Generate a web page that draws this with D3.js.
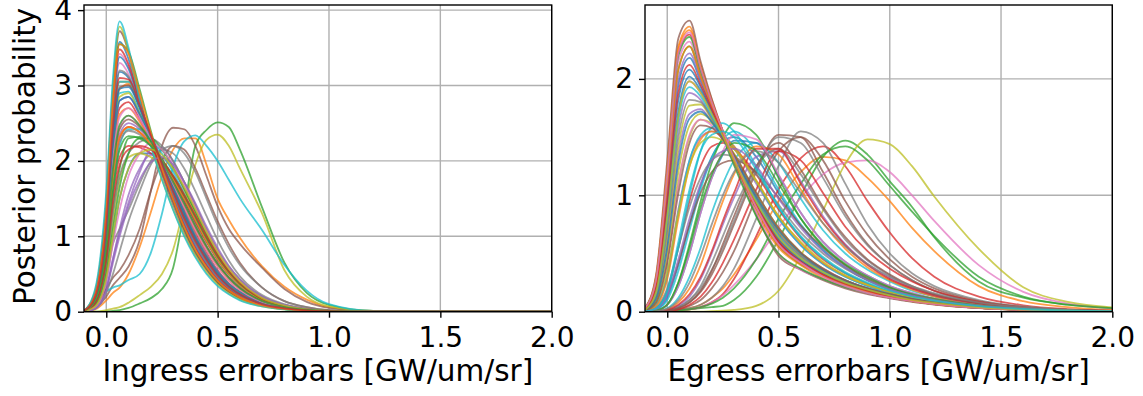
<!DOCTYPE html>
<html>
<head>
<meta charset="utf-8">
<script src="https://cdn.jsdelivr.net/npm/d3@7"></script>
<style>
  body { margin: 0; background: #fff; }
  text { font-family: "DejaVu Sans", sans-serif; }
</style>
</head>
<body>
<svg id="chart" width="1143" height="396"></svg>
<script>
// x grids the curves are sampled on
const xIngress = [-0.1, -0.05, 0, 0.03, 0.06, 0.1, 0.15, 0.2, 0.25, 0.3, 0.35, 0.4, 0.45, 0.5, 0.55, 0.6, 0.7, 0.8, 0.9, 1.0, 1.2, 2.0];
const xEgress = [-0.1, -0.05, 0, 0.05, 0.1, 0.15, 0.2, 0.25, 0.3, 0.4, 0.5, 0.6, 0.7, 0.8, 0.9, 1.0, 1.1, 1.2, 1.4, 1.6, 1.8, 2.0];

const xTicks = [0, 0.5, 1.0, 1.5, 2.0];
const ingressYTicks = [0, 1, 2, 3, 4];
const egressYTicks = [0, 1, 2];

const tab10 = ["#1f77b4", "#ff7f0e", "#2ca02c", "#d62728", "#9467bd", "#8c564b", "#e377c2", "#7f7f7f", "#bcbd22", "#17becf"];

// #region ingress posteriors
const ingressCurves = [
  [0.003,0.06,0.4,0.95,1.5,1.9,2.1,2.1,1.98,1.78,1.52,1.25,0.98,0.74,0.53,0.37,0.17,0.08,0.03,0.01,0.002,0],
  [0,0.03,0.15,0.25,0.32,0.5,0.86,1.32,1.8,2.15,2.3,2.3,1.95,1.5,1.22,0.98,0.6,0.33,0.16,0.06,0.01,0],
  [0,0,0.005,0.01,0.02,0.05,0.11,0.18,0.3,0.58,1.35,2.2,2.41,2.51,2.45,2.15,1.38,0.65,0.25,0.09,0.01,0],
  [0.005,0.12,0.72,1.55,2.05,2.2,2.18,2.1,1.95,1.75,1.5,1.22,0.95,0.7,0.5,0.35,0.16,0.07,0.03,0.01,0,0],
  [0.002,0.04,0.3,0.7,1.1,1.55,1.9,2.08,2.05,1.88,1.62,1.33,1.05,0.78,0.56,0.39,0.18,0.08,0.03,0.01,0.002,0],
  [0,0.05,0.2,0.35,0.45,0.6,0.95,1.6,2.2,2.44,2.42,2.2,1.8,1.4,1.1,0.9,0.58,0.3,0.13,0.05,0.005,0],
  [0.01,0.22,1.25,2.6,3.3,3.15,2.72,2.28,1.9,1.54,1.2,0.9,0.66,0.46,0.32,0.22,0.1,0.045,0.018,0.007,0,0],
  [0.003,0.08,0.5,0.9,1.1,1.35,1.7,2.0,2.15,2.1,1.9,1.6,1.27,0.95,0.68,0.47,0.22,0.1,0.04,0.015,0.002,0],
  [0,0,0.02,0.04,0.06,0.12,0.22,0.33,0.5,0.82,1.4,1.95,2.28,2.35,2.2,1.9,1.3,0.55,0.2,0.07,0.01,0],
  [0.01,0.1,0.27,0.32,0.35,0.42,0.5,0.78,1.3,1.92,2.26,2.34,2.2,2.0,1.75,1.5,1.08,0.62,0.28,0.1,0.01,0],

  [0.01,0.2,1.2,2.5,3.18,3.1,2.72,2.3,1.92,1.56,1.22,0.92,0.67,0.47,0.32,0.22,0.1,0.045,0.018,0.007,0,0],
  [0.01,0.18,1.05,2.3,2.95,3.02,2.72,2.35,1.98,1.62,1.28,0.97,0.72,0.5,0.34,0.23,0.1,0.045,0.018,0.007,0,0],
  [0.005,0.1,0.6,1.35,1.9,2.3,2.32,2.2,2.0,1.75,1.48,1.2,0.93,0.7,0.5,0.35,0.16,0.07,0.03,0.01,0,0],
  [0.01,0.16,0.95,2.1,2.7,2.78,2.55,2.28,1.98,1.66,1.35,1.05,0.78,0.55,0.38,0.26,0.12,0.05,0.02,0.008,0,0],
  [0.003,0.05,0.3,0.7,1.05,1.45,1.85,2.15,2.18,2.0,1.72,1.4,1.08,0.8,0.57,0.4,0.18,0.08,0.03,0.01,0.002,0],
  [0.005,0.08,0.3,0.45,0.55,0.75,1.1,1.6,2.0,2.2,2.15,1.9,1.55,1.2,0.9,0.65,0.32,0.14,0.06,0.02,0.003,0],
  [0.01,0.23,1.3,2.7,3.42,3.25,2.78,2.3,1.9,1.52,1.16,0.86,0.62,0.43,0.3,0.2,0.09,0.04,0.015,0.006,0,0],
  [0.003,0.04,0.25,0.5,0.8,1.2,1.6,1.95,2.15,2.2,2.1,1.85,1.5,1.15,0.85,0.62,0.32,0.14,0.06,0.02,0.003,0],
  [0.005,0.1,0.55,1.2,1.75,2.05,2.1,2.05,1.95,1.8,1.58,1.3,1.02,0.76,0.55,0.38,0.17,0.08,0.03,0.01,0,0],
  [0.01,0.17,1.0,2.25,2.9,2.92,2.65,2.33,1.98,1.63,1.3,0.98,0.72,0.51,0.35,0.24,0.1,0.045,0.018,0.007,0,0],

  [0.01,0.26,1.42,2.88,3.58,3.35,2.8,2.28,1.85,1.46,1.1,0.8,0.58,0.4,0.27,0.19,0.085,0.037,0.014,0.005,0,0],
  [0.01,0.19,1.1,2.4,3.05,3.05,2.72,2.32,1.95,1.6,1.26,0.95,0.7,0.49,0.33,0.23,0.1,0.044,0.017,0.006,0,0],
  [0.01,0.22,1.3,2.8,3.55,3.45,2.95,2.4,1.9,1.48,1.1,0.8,0.57,0.39,0.27,0.18,0.08,0.035,0.013,0.005,0,0],
  [0.008,0.14,0.82,1.75,2.3,2.45,2.38,2.22,2.0,1.75,1.48,1.2,0.93,0.69,0.5,0.35,0.16,0.07,0.03,0.01,0,0],
  [0.008,0.14,0.85,1.8,2.35,2.5,2.42,2.25,2.0,1.72,1.42,1.12,0.86,0.63,0.45,0.31,0.14,0.06,0.025,0.01,0,0],
  [0.01,0.25,1.45,2.95,3.72,3.45,2.85,2.28,1.82,1.42,1.06,0.77,0.55,0.38,0.26,0.18,0.08,0.035,0.013,0.005,0,0],
  [0.01,0.15,0.9,1.9,2.45,2.6,2.48,2.27,2.0,1.72,1.43,1.13,0.86,0.63,0.45,0.31,0.14,0.06,0.025,0.01,0,0],
  [0.005,0.1,0.6,1.3,1.8,2.1,2.25,2.3,2.2,2.0,1.72,1.42,1.1,0.82,0.6,0.43,0.2,0.09,0.035,0.012,0.002,0],
  [0.01,0.28,1.5,3.0,3.78,3.45,2.8,2.22,1.76,1.36,1.02,0.74,0.52,0.36,0.24,0.16,0.07,0.03,0.011,0.004,0,0],
  [0.005,0.1,0.7,1.6,2.2,2.42,2.42,2.3,2.1,1.85,1.56,1.25,0.95,0.7,0.5,0.34,0.15,0.065,0.025,0.01,0,0],

  [0.01,0.22,1.28,2.65,3.38,3.22,2.76,2.3,1.9,1.52,1.17,0.87,0.63,0.44,0.3,0.21,0.09,0.04,0.016,0.006,0,0],
  [0.01,0.17,1.0,2.05,2.62,2.7,2.52,2.27,1.98,1.68,1.38,1.08,0.82,0.6,0.42,0.29,0.13,0.055,0.022,0.008,0,0],
  [0.004,0.08,0.5,1.1,1.65,2.1,2.3,2.3,2.15,1.92,1.63,1.33,1.03,0.77,0.55,0.38,0.17,0.075,0.03,0.01,0,0],
  [0.01,0.24,1.38,2.78,3.48,3.28,2.78,2.28,1.87,1.49,1.14,0.84,0.61,0.42,0.29,0.2,0.09,0.04,0.015,0.006,0,0],
  [0.01,0.17,0.98,2.15,2.8,2.85,2.6,2.3,1.98,1.65,1.33,1.02,0.76,0.54,0.37,0.26,0.11,0.05,0.02,0.007,0,0],
  [0.01,0.14,0.85,1.85,2.42,2.55,2.45,2.26,2.02,1.75,1.46,1.16,0.88,0.65,0.46,0.32,0.14,0.06,0.025,0.01,0,0],
  [0.003,0.06,0.4,0.9,1.35,1.8,2.1,2.24,2.15,1.95,1.68,1.38,1.07,0.8,0.57,0.4,0.18,0.08,0.03,0.01,0.002,0],
  [0.008,0.13,0.8,1.7,2.25,2.4,2.35,2.2,2.0,1.77,1.5,1.22,0.95,0.71,0.51,0.36,0.16,0.07,0.03,0.01,0,0],
  [0.01,0.17,1.0,2.2,2.85,2.9,2.63,2.32,1.98,1.64,1.31,1.0,0.74,0.52,0.36,0.25,0.11,0.048,0.019,0.007,0,0],
  [0.01,0.3,1.6,3.1,3.85,3.5,2.8,2.2,1.75,1.35,1.0,0.72,0.5,0.34,0.23,0.15,0.07,0.03,0.01,0.004,0,0],

  [0.01,0.16,0.95,2.15,2.8,2.85,2.62,2.32,2.0,1.66,1.32,1.0,0.74,0.53,0.37,0.26,0.11,0.05,0.02,0.007,0,0],
  [0.008,0.14,0.82,1.78,2.32,2.45,2.38,2.22,2.0,1.76,1.5,1.22,0.94,0.7,0.5,0.35,0.16,0.07,0.03,0.01,0,0],
  [0.006,0.12,0.72,1.6,2.15,2.33,2.3,2.2,2.02,1.8,1.54,1.26,0.98,0.73,0.53,0.37,0.17,0.075,0.03,0.01,0,0],
  [0.005,0.11,0.68,1.45,1.95,2.15,2.2,2.15,2.0,1.8,1.55,1.28,1.0,0.75,0.54,0.38,0.17,0.075,0.03,0.01,0,0],
  [0.002,0.04,0.28,0.65,1.0,1.4,1.75,1.98,2.05,1.95,1.72,1.44,1.13,0.85,0.61,0.43,0.2,0.09,0.035,0.012,0.002,0],
  [0.01,0.19,1.08,2.35,2.98,3.0,2.72,2.35,1.98,1.62,1.28,0.97,0.72,0.5,0.34,0.23,0.1,0.045,0.018,0.007,0,0],
  [0.01,0.16,0.95,2.0,2.58,2.7,2.55,2.3,2.0,1.7,1.39,1.09,0.82,0.6,0.42,0.29,0.13,0.055,0.022,0.008,0,0],
  [0.01,0.2,1.18,2.5,3.2,3.12,2.74,2.32,1.93,1.56,1.21,0.91,0.66,0.46,0.32,0.22,0.1,0.044,0.017,0.006,0,0],
  [0.004,0.07,0.45,1.0,1.5,1.9,2.1,2.15,2.08,1.9,1.65,1.36,1.06,0.79,0.57,0.4,0.18,0.08,0.03,0.01,0.002,0],
  [0.01,0.19,1.1,2.4,3.05,3.05,2.72,2.33,1.96,1.6,1.26,0.95,0.7,0.49,0.33,0.23,0.1,0.044,0.017,0.006,0,0],

  [0.01,0.18,1.02,2.3,2.96,2.98,2.7,2.34,1.97,1.62,1.28,0.97,0.71,0.5,0.34,0.23,0.1,0.045,0.018,0.007,0,0],
  [0.01,0.22,1.3,2.78,3.55,3.42,2.9,2.37,1.9,1.49,1.12,0.82,0.59,0.41,0.28,0.19,0.085,0.037,0.014,0.005,0,0],
  [0.01,0.15,0.88,1.9,2.48,2.6,2.47,2.26,2.0,1.72,1.43,1.13,0.86,0.63,0.45,0.31,0.14,0.06,0.025,0.01,0,0],
  [0.01,0.2,1.15,2.45,3.1,3.08,2.74,2.34,1.96,1.59,1.24,0.94,0.69,0.48,0.33,0.23,0.1,0.045,0.018,0.007,0,0]
];
// #endregion

// #region egress posteriors
const egressCurves = [
  [0.002,0.02,0.12,0.4,0.75,1.08,1.33,1.47,1.5,1.33,1.02,0.74,0.53,0.38,0.27,0.19,0.14,0.1,0.05,0.024,0.01,0.004],
  [0,0,0.005,0.015,0.03,0.06,0.12,0.2,0.32,0.62,0.95,1.2,1.33,1.3,1.15,0.95,0.72,0.52,0.22,0.09,0.04,0.015],
  [0,0,0.005,0.01,0.02,0.03,0.04,0.05,0.1,0.3,0.62,1.0,1.33,1.47,1.35,1.12,0.9,0.64,0.26,0.12,0.06,0.03],
  [0,0,0.003,0.01,0.02,0.04,0.08,0.15,0.28,0.65,1.05,1.32,1.42,1.25,0.95,0.68,0.46,0.3,0.13,0.055,0.022,0.008],
  [0.005,0.06,0.32,0.88,1.3,1.5,1.55,1.5,1.4,1.1,0.8,0.57,0.41,0.3,0.22,0.16,0.12,0.085,0.045,0.021,0.009,0.003],
  [0,0,0.01,0.03,0.08,0.17,0.32,0.52,0.75,1.2,1.52,1.5,1.2,0.85,0.58,0.4,0.27,0.18,0.08,0.035,0.014,0.005],
  [0,0,0.003,0.01,0.02,0.04,0.08,0.14,0.23,0.45,0.72,0.98,1.18,1.28,1.3,1.2,1.0,0.78,0.4,0.17,0.07,0.03],
  [0,0,0.005,0.015,0.03,0.06,0.12,0.22,0.37,0.8,1.25,1.55,1.45,1.1,0.75,0.5,0.33,0.22,0.1,0.045,0.018,0.007],
  [0,0,0,0,0,0,0.005,0.01,0.015,0.05,0.18,0.48,0.87,1.27,1.48,1.44,1.25,0.99,0.54,0.21,0.085,0.038],
  [0,0.005,0.03,0.12,0.3,0.55,0.85,1.1,1.3,1.45,1.28,0.97,0.7,0.5,0.36,0.26,0.18,0.13,0.065,0.03,0.013,0.005],

  [0,0.01,0.06,0.22,0.5,0.85,1.15,1.35,1.47,1.45,1.17,0.85,0.6,0.43,0.31,0.22,0.16,0.11,0.055,0.026,0.011,0.004],
  [0.03,0.3,1.22,2.28,2.45,2.12,1.82,1.55,1.3,0.86,0.55,0.4,0.29,0.21,0.16,0.12,0.088,0.064,0.032,0.015,0.006,0.002],
  [0,0,0.005,0.01,0.02,0.04,0.07,0.12,0.2,0.45,0.8,1.1,1.35,1.42,1.3,1.08,0.86,0.65,0.3,0.13,0.06,0.03],
  [0.003,0.03,0.18,0.55,0.95,1.25,1.42,1.45,1.4,1.18,0.88,0.63,0.45,0.33,0.24,0.17,0.12,0.09,0.045,0.022,0.009,0.003],
  [0.01,0.12,0.6,1.35,1.7,1.74,1.63,1.48,1.32,0.98,0.69,0.49,0.36,0.27,0.2,0.15,0.11,0.08,0.04,0.019,0.008,0.003],
  [0.03,0.32,1.3,2.35,2.5,2.15,1.83,1.55,1.3,0.83,0.48,0.36,0.27,0.2,0.15,0.115,0.085,0.062,0.031,0.015,0.006,0.002],
  [0.015,0.17,0.82,1.68,1.98,1.88,1.7,1.51,1.3,0.94,0.64,0.46,0.34,0.25,0.19,0.14,0.1,0.075,0.038,0.018,0.008,0.003],
  [0,0.002,0.01,0.04,0.1,0.2,0.36,0.55,0.78,1.22,1.5,1.45,1.15,0.82,0.57,0.4,0.27,0.18,0.085,0.038,0.015,0.006],
  [0.01,0.1,0.45,1.1,1.5,1.65,1.62,1.5,1.36,1.02,0.72,0.51,0.37,0.27,0.2,0.15,0.11,0.08,0.04,0.019,0.008,0.003],
  [0.002,0.02,0.1,0.35,0.7,1.05,1.32,1.48,1.55,1.38,1.05,0.75,0.53,0.38,0.27,0.19,0.14,0.1,0.05,0.024,0.01,0.004],

  [0.02,0.22,1.0,1.95,2.18,1.98,1.75,1.52,1.3,0.92,0.6,0.43,0.32,0.24,0.18,0.13,0.095,0.07,0.035,0.016,0.007,0.002],
  [0,0.003,0.02,0.08,0.2,0.4,0.68,0.95,1.18,1.42,1.35,1.05,0.76,0.54,0.38,0.27,0.19,0.13,0.065,0.03,0.013,0.005],
  [0,0.01,0.06,0.25,0.58,0.95,1.28,1.5,1.62,1.52,1.15,0.8,0.56,0.4,0.28,0.2,0.14,0.1,0.05,0.023,0.01,0.004],
  [0.03,0.28,1.18,2.22,2.38,2.08,1.8,1.55,1.32,0.9,0.6,0.43,0.31,0.22,0.16,0.12,0.09,0.065,0.032,0.015,0.006,0.002],
  [0,0.002,0.01,0.05,0.13,0.28,0.5,0.75,0.98,1.33,1.38,1.12,0.82,0.58,0.41,0.29,0.2,0.14,0.07,0.032,0.014,0.005],
  [0,0.001,0.005,0.02,0.05,0.1,0.2,0.34,0.52,0.98,1.38,1.5,1.3,0.95,0.66,0.45,0.3,0.2,0.09,0.04,0.016,0.006],
  [0.025,0.26,1.12,2.15,2.32,2.05,1.77,1.5,1.27,0.85,0.5,0.36,0.28,0.21,0.16,0.12,0.09,0.066,0.033,0.015,0.006,0.002],
  [0.005,0.04,0.2,0.55,0.9,1.15,1.3,1.35,1.33,1.18,0.92,0.68,0.5,0.37,0.27,0.2,0.14,0.1,0.05,0.024,0.01,0.004],
  [0.012,0.13,0.65,1.42,1.77,1.78,1.65,1.49,1.32,0.97,0.68,0.48,0.35,0.26,0.19,0.14,0.1,0.075,0.038,0.018,0.008,0.003],
  [0.005,0.06,0.3,0.85,1.3,1.52,1.58,1.52,1.42,1.12,0.8,0.57,0.41,0.3,0.22,0.16,0.12,0.085,0.045,0.021,0.009,0.003],

  [0.015,0.18,0.85,1.72,2.02,1.9,1.72,1.52,1.3,0.93,0.63,0.45,0.33,0.25,0.18,0.135,0.1,0.073,0.037,0.017,0.007,0.003],
  [0.03,0.3,1.22,2.26,2.42,2.1,1.8,1.55,1.33,0.92,0.62,0.45,0.32,0.23,0.17,0.125,0.09,0.065,0.032,0.015,0.006,0.002],
  [0.025,0.25,1.1,2.08,2.28,2.02,1.77,1.53,1.3,0.89,0.57,0.41,0.31,0.23,0.17,0.125,0.092,0.067,0.033,0.015,0.006,0.002],
  [0,0,0.005,0.02,0.06,0.13,0.25,0.42,0.62,1.05,1.38,1.3,1.02,0.73,0.52,0.37,0.26,0.18,0.085,0.038,0.015,0.006],
  [0.013,0.15,0.75,1.58,1.88,1.82,1.67,1.5,1.31,0.96,0.66,0.47,0.35,0.26,0.19,0.14,0.1,0.075,0.038,0.018,0.008,0.003],
  [0.003,0.03,0.15,0.42,0.75,1.02,1.2,1.28,1.3,1.2,0.98,0.74,0.55,0.4,0.29,0.21,0.15,0.11,0.055,0.026,0.011,0.004],
  [0.008,0.09,0.45,1.1,1.52,1.65,1.6,1.48,1.34,1.0,0.7,0.5,0.37,0.27,0.2,0.15,0.11,0.08,0.04,0.019,0.008,0.003],
  [0,0.001,0.008,0.04,0.1,0.22,0.42,0.65,0.88,1.25,1.4,1.18,0.88,0.62,0.44,0.31,0.21,0.15,0.072,0.033,0.014,0.005],
  [0.008,0.1,0.5,1.2,1.6,1.7,1.64,1.5,1.35,1.0,0.7,0.5,0.36,0.27,0.2,0.15,0.11,0.08,0.04,0.019,0.008,0.003],
  [0.003,0.03,0.16,0.55,1.0,1.38,1.58,1.62,1.55,1.25,0.9,0.64,0.46,0.33,0.24,0.17,0.125,0.09,0.045,0.022,0.009,0.003],

  [0.02,0.2,0.92,1.82,2.08,1.93,1.72,1.51,1.3,0.93,0.62,0.44,0.33,0.24,0.18,0.13,0.097,0.072,0.036,0.017,0.007,0.003],
  [0.004,0.05,0.28,0.8,1.25,1.48,1.55,1.5,1.42,1.13,0.82,0.59,0.42,0.31,0.23,0.17,0.12,0.088,0.045,0.021,0.009,0.003],
  [0.03,0.27,1.15,2.2,2.36,2.07,1.78,1.5,1.26,0.82,0.5,0.37,0.28,0.21,0.16,0.12,0.09,0.065,0.032,0.015,0.006,0.002],
  [0,0.003,0.015,0.06,0.15,0.3,0.52,0.78,1.02,1.4,1.4,1.1,0.8,0.57,0.4,0.28,0.2,0.14,0.07,0.032,0.014,0.005],
  [0.02,0.23,1.05,2.0,2.22,2.0,1.76,1.52,1.3,0.9,0.58,0.42,0.31,0.23,0.17,0.125,0.092,0.067,0.033,0.015,0.006,0.002],
  [0,0.001,0.007,0.03,0.08,0.18,0.35,0.58,0.82,1.25,1.45,1.22,0.9,0.64,0.45,0.32,0.22,0.15,0.073,0.033,0.014,0.005],
  [0,0.01,0.06,0.22,0.5,0.85,1.15,1.38,1.52,1.48,1.18,0.85,0.6,0.43,0.31,0.22,0.16,0.11,0.055,0.026,0.011,0.004],
  [0.012,0.14,0.7,1.5,1.82,1.8,1.66,1.5,1.32,0.97,0.67,0.48,0.35,0.26,0.19,0.14,0.1,0.075,0.038,0.018,0.008,0.003],
  [0.01,0.08,0.35,0.85,1.25,1.45,1.5,1.47,1.4,1.12,0.82,0.6,0.43,0.31,0.23,0.17,0.12,0.09,0.045,0.021,0.009,0.003],
  [0.015,0.17,0.8,1.65,1.93,1.85,1.68,1.5,1.3,0.95,0.65,0.46,0.34,0.25,0.19,0.14,0.1,0.075,0.038,0.018,0.008,0.003],

  [0.01,0.11,0.55,1.28,1.66,1.72,1.63,1.49,1.33,0.99,0.7,0.5,0.36,0.27,0.2,0.15,0.11,0.08,0.04,0.019,0.008,0.003],
  [0.025,0.25,1.1,2.08,2.28,2.02,1.77,1.53,1.3,0.89,0.57,0.41,0.31,0.23,0.17,0.125,0.092,0.067,0.033,0.015,0.006,0.002],
  [0.001,0.01,0.06,0.25,0.55,0.9,1.18,1.36,1.45,1.38,1.1,0.8,0.57,0.41,0.3,0.21,0.15,0.11,0.055,0.026,0.011,0.004],
  [0.02,0.21,0.95,1.88,2.12,1.95,1.74,1.52,1.3,0.92,0.6,0.43,0.32,0.24,0.18,0.13,0.095,0.07,0.035,0.016,0.007,0.002],
  [0.003,0.025,0.14,0.45,0.8,1.1,1.3,1.38,1.4,1.25,0.97,0.72,0.52,0.38,0.27,0.19,0.14,0.1,0.05,0.024,0.01,0.004],
  [0.007,0.08,0.42,1.02,1.45,1.6,1.58,1.48,1.35,1.02,0.72,0.51,0.37,0.27,0.2,0.15,0.11,0.08,0.04,0.019,0.008,0.003],
  [0.03,0.28,1.18,2.22,2.4,2.09,1.8,1.55,1.32,0.9,0.58,0.42,0.3,0.22,0.16,0.12,0.09,0.065,0.032,0.015,0.006,0.002],
  [0,0.004,0.025,0.1,0.25,0.48,0.75,1.0,1.2,1.38,1.28,1.02,0.76,0.56,0.41,0.3,0.22,0.16,0.08,0.037,0.016,0.006],
  [0.015,0.17,0.82,1.68,1.98,1.88,1.7,1.51,1.3,0.94,0.64,0.46,0.34,0.25,0.19,0.14,0.1,0.075,0.038,0.018,0.008,0.003],
  [0.003,0.03,0.18,0.6,1.05,1.38,1.52,1.55,1.5,1.22,0.9,0.65,0.47,0.34,0.25,0.18,0.13,0.095,0.048,0.023,0.01,0.004]
];
// #endregion

const svg = d3.select("#chart");
const tickFontSize = 28;
const labelFontSize = 29.5;

function drawPanel({ id, left, right, top, bottom, xs, curves, yMax, yTicks, xLabel, yLabel }) {
  const x = d3.scaleLinear().domain([-0.1, 2.0]).range([left, right]);
  const y = d3.scaleLinear().domain([0, yMax]).range([bottom, top]);

  svg.append("clipPath")
    .attr("id", `clip-${id}`)
    .append("rect")
    .attr("x", left)
    .attr("y", top)
    .attr("width", right - left)
    .attr("height", bottom - top);

  // grid under the lines
  const grid = svg.append("g").attr("stroke", "#b0b0b0").attr("stroke-width", 1.4);
  grid.selectAll(".gx")
    .data(xTicks)
    .join("line")
    .attr("x1", (d) => x(d))
    .attr("x2", (d) => x(d))
    .attr("y1", top)
    .attr("y2", bottom);
  grid.selectAll(".gy")
    .data(yTicks)
    .join("line")
    .attr("x1", left)
    .attr("x2", right)
    .attr("y1", (d) => y(d))
    .attr("y2", (d) => y(d));

  const line = d3
    .line()
    .x((d, i) => x(xs[i]))
    .y((d) => y(d))
    .curve(d3.curveMonotoneX);

  svg.append("g")
    .attr("clip-path", `url(#clip-${id})`)
    .selectAll("path")
    .data(curves)
    .join("path")
    .attr("d", line)
    .attr("fill", "none")
    .attr("stroke", (d, i) => tab10[i % 10])
    .attr("stroke-width", 1.8)
    .attr("stroke-opacity", 0.75);

  // axes
  const xAxis = svg.append("g")
    .attr("transform", `translate(0,${bottom})`)
    .call(d3.axisBottom(x).tickValues(xTicks).tickFormat(d3.format(".1f")).tickSize(6).tickSizeOuter(0).tickPadding(9));
  const yAxis = svg.append("g")
    .attr("transform", `translate(${left},0)`)
    .call(d3.axisLeft(y).tickValues(yTicks).tickFormat(d3.format("d")).tickSize(6).tickSizeOuter(0).tickPadding(6));

  [xAxis, yAxis].forEach((a) => {
    a.select(".domain").remove();
    a.selectAll(".tick line").attr("stroke", "#000").attr("stroke-width", 1.4);
    a.selectAll(".tick text")
      .attr("fill", "#000")
      .style("font-family", "DejaVu Sans")
      .style("font-size", tickFontSize + "px");
  });

  // spines
  svg.append("rect")
    .attr("x", left)
    .attr("y", top)
    .attr("width", right - left)
    .attr("height", bottom - top)
    .attr("fill", "none")
    .attr("stroke", "#000")
    .attr("stroke-width", 1.4);

  svg.append("text")
    .attr("x", (left + right) / 2)
    .attr("y", 381)
    .attr("text-anchor", "middle")
    .style("font-size", labelFontSize + "px")
    .text(xLabel);

  if (yLabel) {
    svg.append("text")
      .attr("transform", `translate(35,${(top + bottom) / 2 - 2}) rotate(-90)`)
      .attr("text-anchor", "middle")
      .style("font-size", labelFontSize + "px")
      .text(yLabel);
  }
}

drawPanel({
  id: "ingress",
  left: 84, right: 551.7, top: 5, bottom: 311.7,
  xs: xIngress, curves: ingressCurves,
  yMax: 4.068, yTicks: ingressYTicks,
  xLabel: "Ingress errorbars [GW/um/sr]",
  yLabel: "Posterior probability"
});

drawPanel({
  id: "egress",
  left: 645, right: 1112.3, top: 5, bottom: 311.7,
  xs: xEgress, curves: egressCurves,
  yMax: 2.635, yTicks: egressYTicks,
  xLabel: "Egress errorbars [GW/um/sr]"
});
</script>
</body>
</html>
